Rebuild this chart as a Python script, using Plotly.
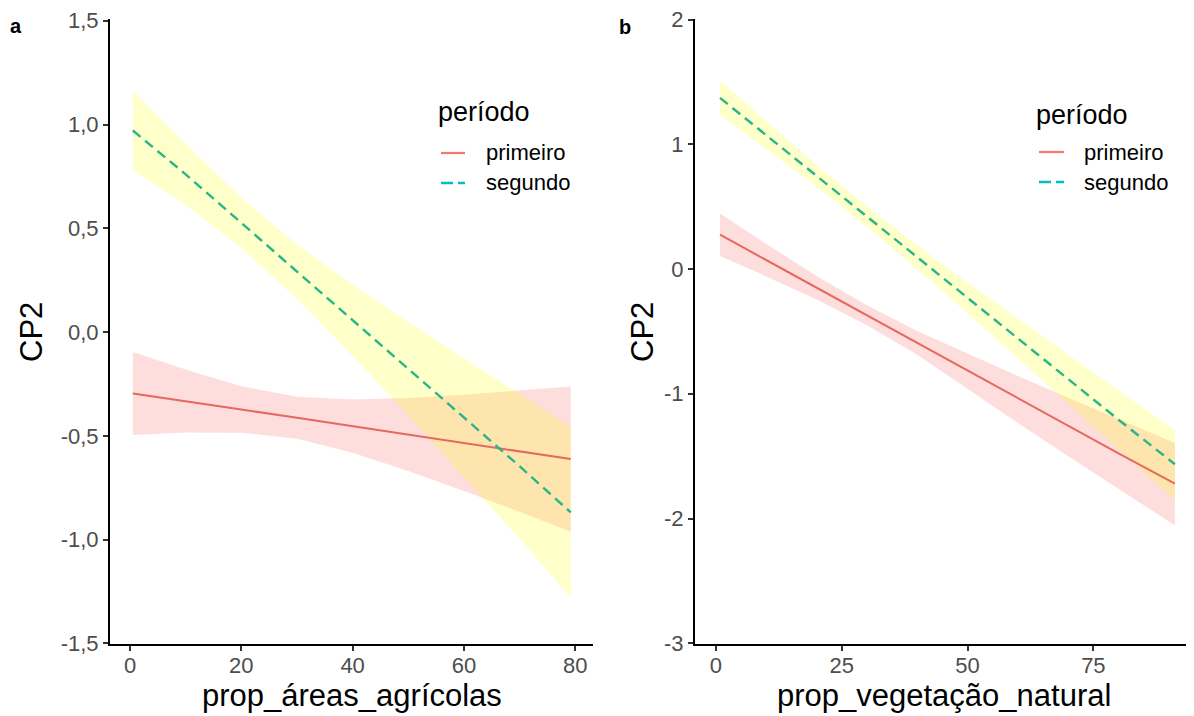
import plotly.graph_objects as go

# ---------------- data ----------------
# Panel a: CP2 vs prop_áreas_agrícolas
a_x = [0.5, 10, 20, 30, 40, 50, 60, 70, 79.2]
a_prim_fit = [-0.296, -0.332, -0.373, -0.413, -0.453, -0.494, -0.534, -0.574, -0.612]
a_prim_hi = [-0.096, -0.180, -0.261, -0.312, -0.325, -0.318, -0.302, -0.282, -0.262]
a_prim_lo = [-0.496, -0.484, -0.485, -0.514, -0.581, -0.670, -0.766, -0.866, -0.962]
a_seg_fit = [0.971, 0.760, 0.526, 0.291, 0.057, -0.177, -0.412, -0.646, -0.869]
a_seg_hi = [1.161, 0.907, 0.647, 0.422, 0.228, 0.048, -0.127, -0.297, -0.458]
a_seg_lo = [0.781, 0.613, 0.405, 0.160, -0.114, -0.402, -0.697, -0.995, -1.280]

# Panel b: CP2 vs prop_vegetação_natural
b_x = [0.8, 10, 20, 30, 40, 50, 60, 70, 80, 91.2]
b_prim_fit = [0.275, 0.071, -0.150, -0.371, -0.592, -0.813, -1.035, -1.256, -1.477, -1.720]
b_prim_hi = [0.445, 0.201, -0.055, -0.291, -0.496, -0.680, -0.858, -1.031, -1.202, -1.395]
b_prim_lo = [0.105, -0.059, -0.245, -0.451, -0.688, -0.960, -1.235, -1.500, -1.765, -2.055]
b_seg_fit = [1.372, 1.072, 0.746, 0.421, 0.095, -0.231, -0.557, -0.883, -1.208, -1.565]
b_seg_hi = [1.512, 1.183, 0.833, 0.501, 0.190, -0.108, -0.399, -0.687, -0.973, -1.293]
b_seg_lo = [1.232, 0.961, 0.659, 0.341, 0.000, -0.354, -0.715, -1.079, -1.443, -1.853]

series_names = ["primeiro", "segundo"]
legend_title = "período"
y_title = "CP2"
a_x_title = "prop_áreas_agrícolas"
b_x_title = "prop_vegetação_natural"

a_xticks = [0, 20, 40, 60, 80]
a_yticks = [-1.5, -1.0, -0.5, 0.0, 0.5, 1.0, 1.5]
a_yticktext = ["-1,5", "-1,0", "-0,5", "0,0", "0,5", "1,0", "1,5"]
b_xticks = [0, 25, 50, 75]
b_yticks = [-3, -2, -1, 0, 1, 2]
b_yticktext = ["-3", "-2", "-1", "0", "1", "2"]

# ---------------- style ----------------
# the page body adds an 8px margin, so the figure is 8px smaller and all
# layout positions below are given in window pixels and shifted by OFF
OFF = 8
W, H = 1194 - OFF, 716 - OFF
FONT = "Liberation Sans, Arial, Helvetica, sans-serif"
RED_LINE = "#E5695E"
GREEN_LINE = "#27B68A"
RED_KEY = "#F8766D"
TEAL_KEY = "#00BFC4"
PINK_FILL = "rgba(248,118,109,0.24)"
YELLOW_FILL = "rgba(255,255,0,0.21)"


def fx(px):
    return (px - OFF) / W


def fy(py):
    return 1 - (py - OFF) / H


fig = go.Figure()


def add_panel(x, fit1, hi1, lo1, fit2, hi2, lo2, xa, ya):
    # confidence ribbons
    fig.add_trace(go.Scatter(
        x=list(x) + list(x)[::-1], y=list(hi1) + list(lo1)[::-1],
        fill="toself", fillcolor=PINK_FILL, line=dict(width=0),
        mode="lines", hoverinfo="skip", showlegend=False, xaxis=xa, yaxis=ya))
    fig.add_trace(go.Scatter(
        x=list(x) + list(x)[::-1], y=list(hi2) + list(lo2)[::-1],
        fill="toself", fillcolor=YELLOW_FILL, line=dict(width=0),
        mode="lines", hoverinfo="skip", showlegend=False, xaxis=xa, yaxis=ya))
    # fitted lines
    fig.add_trace(go.Scatter(
        x=x, y=fit1, mode="lines", name=series_names[0],
        line=dict(color=RED_LINE, width=2), showlegend=False, xaxis=xa, yaxis=ya))
    fig.add_trace(go.Scatter(
        x=x, y=fit2, mode="lines", name=series_names[1],
        line=dict(color=GREEN_LINE, width=2.4, dash="10px,6px"),
        showlegend=False, xaxis=xa, yaxis=ya))


add_panel(a_x, a_prim_fit, a_prim_hi, a_prim_lo, a_seg_fit, a_seg_hi, a_seg_lo, "x", "y")
add_panel(b_x, b_prim_fit, b_prim_hi, b_prim_lo, b_seg_fit, b_seg_hi, b_seg_lo, "x2", "y2")

axis_common = dict(
    showgrid=False, zeroline=False, showline=True, linecolor="black", linewidth=2,
    ticks="outside", ticklen=5, tickwidth=1.5, tickcolor="#333333",
    tickfont=dict(family=FONT, size=22, color="#4D4D4D"),
    ticklabeloverflow="allow",
    automargin=False, fixedrange=True,
)

y_dom = [fy(644), fy(19.3)]

fig.update_layout(
    width=W, height=H,
    margin=dict(l=0, r=0, t=0, b=0),
    paper_bgcolor="white", plot_bgcolor="white",
    font=dict(family=FONT),
    showlegend=False,
    xaxis=dict(domain=[fx(110), fx(593)], range=[-3.6, 83.2],
               tickvals=a_xticks, ticktext=[str(v) for v in a_xticks],
               anchor="y", ticklabelstandoff=-4, **axis_common),
    yaxis=dict(domain=y_dom, range=[-1.503, 1.507],
               tickvals=a_yticks, ticktext=a_yticktext, anchor="x", **axis_common),
    xaxis2=dict(domain=[fx(695), 1.0], range=[-4.17, 95.0],
                tickvals=b_xticks, ticktext=[str(v) for v in b_xticks],
                anchor="y2", ticklabelstandoff=-4, **axis_common),
    yaxis2=dict(domain=y_dom, range=[-3.006, 2.002],
                tickvals=b_yticks, ticktext=b_yticktext, anchor="x2", **axis_common),
)

annotations = []
shapes = []


def txt(text, px, py, size, xanchor="center", angle=0, bold=False, color="black"):
    annotations.append(dict(
        text=f"<b>{text}</b>" if bold else text,
        x=fx(px), y=fy(py), xref="paper", yref="paper",
        xanchor=xanchor, yanchor="middle", showarrow=False, textangle=angle,
        font=dict(family=FONT, size=size, color=color)))


# panel letters
txt("a", 16, 26, 20, bold=True)
txt("b", 625, 27, 20, bold=True)

# axis titles
txt(y_title, 31, 332, 31, angle=-90)
txt(y_title, 642, 332, 31, angle=-90)
txt(a_x_title, 351.5, 695, 31)
txt(b_x_title, 944, 695, 31)


# legends (drawn manually)
def legend(tx, ty, kx0, kx1, lx, y1, y2):
    txt(legend_title, tx, ty, 27, xanchor="left")
    txt(series_names[0], lx, y1, 22, xanchor="left")
    txt(series_names[1], lx, y2, 22, xanchor="left")
    shapes.append(dict(type="line", xref="paper", yref="paper",
                       x0=fx(kx0), x1=fx(kx1), y0=fy(y1), y1=fy(y1),
                       line=dict(color=RED_KEY, width=2.2)))
    shapes.append(dict(type="line", xref="paper", yref="paper",
                       x0=fx(kx0), x1=fx(kx1), y0=fy(y2), y1=fy(y2),
                       line=dict(color=TEAL_KEY, width=2.4, dash="12px,5px")))


legend(436, 112, 441, 465, 484, 153, 183)
legend(1034, 115, 1039, 1064, 1082, 152, 182)

fig.update_layout(annotations=annotations, shapes=shapes)

fig.write_html("out.html")
